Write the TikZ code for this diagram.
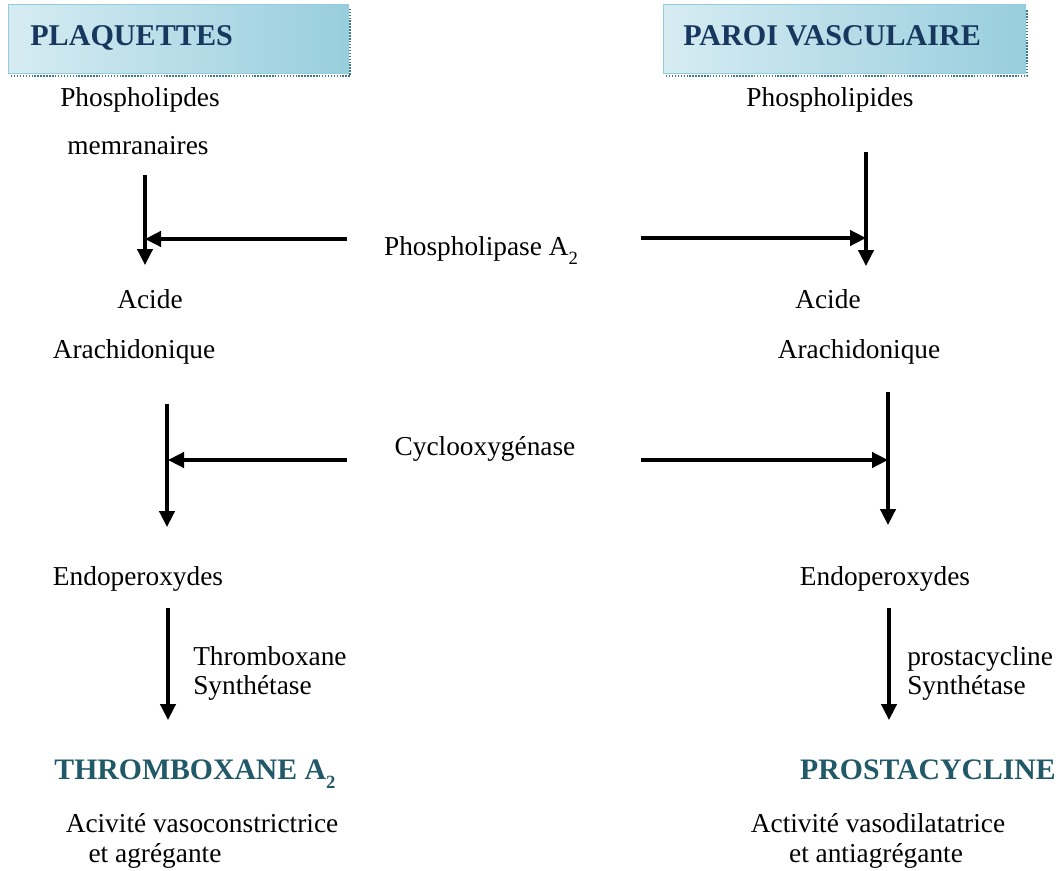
\documentclass[tikz,border=0pt]{standalone}
\usepackage{fontspec}
\setmainfont{Liberation Serif}
\usetikzlibrary{arrows.meta}
\definecolor{navy}{HTML}{17375E}
\definecolor{tealtxt}{HTML}{215968}
\definecolor{boxlight}{HTML}{DDEFF5}
\definecolor{boxdark}{HTML}{98CEDD}
\definecolor{boxedge}{HTML}{93CDDD}
\definecolor{shadowc}{HTML}{3D7886}
\newcommand\subtwo{\raisebox{-7pt}{\fontsize{14}{14}\selectfont 2}}
\begin{document}
\begin{tikzpicture}[x=0.75pt,y=-0.75pt,
  lbl/.style={font=\fontsize{20.5}{24}\selectfont, inner sep=0pt, anchor=base},
  ttl/.style={font=\fontsize{22.6}{26}\selectfont\bfseries, text=navy, inner sep=0pt, anchor=base west},
  prod/.style={font=\fontsize{22.3}{26}\selectfont\bfseries, text=tealtxt, inner sep=0pt, anchor=base},
  flow/.style={line width=2.5pt, -{Triangle[length=12pt,width=11.5pt]}},
  hbox/.style={draw=boxedge, line width=1pt, left color=boxlight!90!boxdark, middle color=boxlight!60!white, right color=boxdark, minimum height=51.75pt, anchor=north west, inner sep=0pt},
  hshadow/.style={draw=shadowc, line width=1.8pt, dash pattern=on 1.1pt off 1.1pt}]
\useasboundingbox (0,0) rectangle (1061,871);

% header boxes
\draw[hshadow] (11,76) -- (350,76) -- (350,9);
\node[hbox, minimum width=255pt] (hbl) at (8,4) {};
\node[ttl] (tl) at (30,45) {PLAQUETTES};
\draw[hshadow] (666,76) -- (1027,76) -- (1027,9);
\node[hbox, minimum width=271.5pt] (hbr) at (663,4) {};
\node[ttl] (tr) at (683,45) {PAROI VASCULAIRE};

% left column texts
\node[lbl] (pl) at (140,106) {Phospholipdes};
\node[lbl] (mem) at (138,154) {memranaires};
\node[lbl] (acl) at (150,308) {Acide};
\node[lbl] (arl) at (134,358) {Arachidonique};
\node[lbl] (enl) at (138,585) {Endoperoxydes};
\node[lbl, anchor=base west] (txs1) at (193,665) {Thromboxane};
\node[lbl, anchor=base west] (txs2) at (193,694) {Synthétase};
\node[prod] (txa) at (195,779) {THROMBOXANE A\subtwo};
\node[lbl] (a1) at (202,832) {Acivité vasoconstrictrice};
\node[lbl] (a2) at (155,862) {et agrégante};

% right column texts
\node[lbl] (pr) at (830,106) {Phospholipides};
\node[lbl] (acr) at (828,308) {Acide};
\node[lbl] (arr) at (859,358) {Arachidonique};
\node[lbl] (enr) at (885,585) {Endoperoxydes};
\node[lbl, anchor=base west] (pgs1) at (907,665) {prostacycline};
\node[lbl, anchor=base west] (pgs2) at (907,694) {Synthétase};
\node[prod] (pgi) at (928,779) {PROSTACYCLINE};
\node[lbl] (b1) at (878,832) {Activité vasodilatatrice};
\node[lbl] (b2) at (876,862) {et antiagrégante};

% enzymes
\node[lbl] (pla2) at (481,255) {Phospholipase A\subtwo};
\node[lbl] (cox) at (485,455) {Cyclooxygénase};

% arrow end points
\coordinate (l1s) at (145,175);  \coordinate (l1e) at (145,265);
\coordinate (lh1s) at (347,239); \coordinate (lh1e) at (145,239);
\coordinate (l2s) at (167,404);  \coordinate (l2e) at (167,527);
\coordinate (lh2s) at (347,460); \coordinate (lh2e) at (168,460);
\coordinate (l3s) at (168,608);  \coordinate (l3e) at (168,720);
\coordinate (r1s) at (866,152);  \coordinate (r1e) at (866,266);
\coordinate (rh1s) at (641,238); \coordinate (rh1e) at (866,238);
\coordinate (r2s) at (888,392);  \coordinate (r2e) at (888,525);
\coordinate (rh2s) at (641,460); \coordinate (rh2e) at (888,460);
\coordinate (r3s) at (889,608);  \coordinate (r3e) at (889,720);

\draw[flow] (l1s) -- (l1e);
\draw[flow] (lh1s) -- (lh1e);
\draw[flow] (l2s) -- (l2e);
\draw[flow] (lh2s) -- (lh2e);
\draw[flow] (l3s) -- (l3e);
\draw[flow] (r1s) -- (r1e);
\draw[flow] (rh1s) -- (rh1e);
\draw[flow] (r2s) -- (r2e);
\draw[flow] (rh2s) -- (rh2e);
\draw[flow] (r3s) -- (r3e);
\end{tikzpicture}
\end{document}
